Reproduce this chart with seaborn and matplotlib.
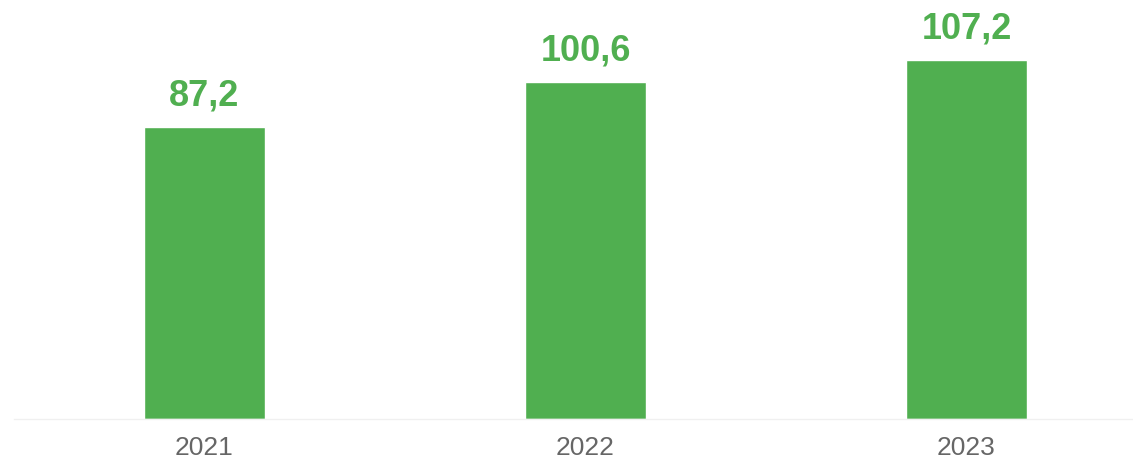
import matplotlib
matplotlib.use("Agg")
import matplotlib.pyplot as plt
import seaborn as sns
import pandas as pd

years = ["2021", "2022", "2023"]
values = [87.2, 100.6, 107.2]
labels = ["87,2", "100,6", "107,2"]

sns.set_style("white")
plt.rcParams['font.family'] = ['Liberation Sans', 'DejaVu Sans']

W, H = 1133, 461
fig = plt.figure(figsize=(W / 100, H / 100), dpi=100)
left_px, right_px, base_px = 14, 1133, 419
ax = fig.add_axes([left_px / W, (H - base_px) / H, (right_px - left_px) / W, base_px / H])

df = pd.DataFrame({"year": years, "value": values})
green = "#50AF50"
sns.barplot(data=df, x="year", y="value", color=green, saturation=1, width=121 / 381, ax=ax)

ax.set_xlim(-0.5, -0.5 + (right_px - left_px) / 381)
ax.set_ylim(0, base_px / 3.35)

for i, (v, lab) in enumerate(zip(values, labels)):
    ax.annotate(lab, xy=(i, v), xytext=(0, 15.5), textcoords="offset points",
                ha="center", va="baseline", fontsize=26, fontweight="bold", color=green)

for s in ["top", "right", "left"]:
    ax.spines[s].set_visible(False)
ax.spines["bottom"].set_color("#f0f0f0")
ax.spines["bottom"].set_linewidth(1)
ax.set_yticks([])
ax.set_xlabel("")
ax.set_ylabel("")
ax.tick_params(axis="x", length=0, pad=12.5, labelsize=19, labelcolor="#666666")

fig.savefig("out.png", dpi=100)
